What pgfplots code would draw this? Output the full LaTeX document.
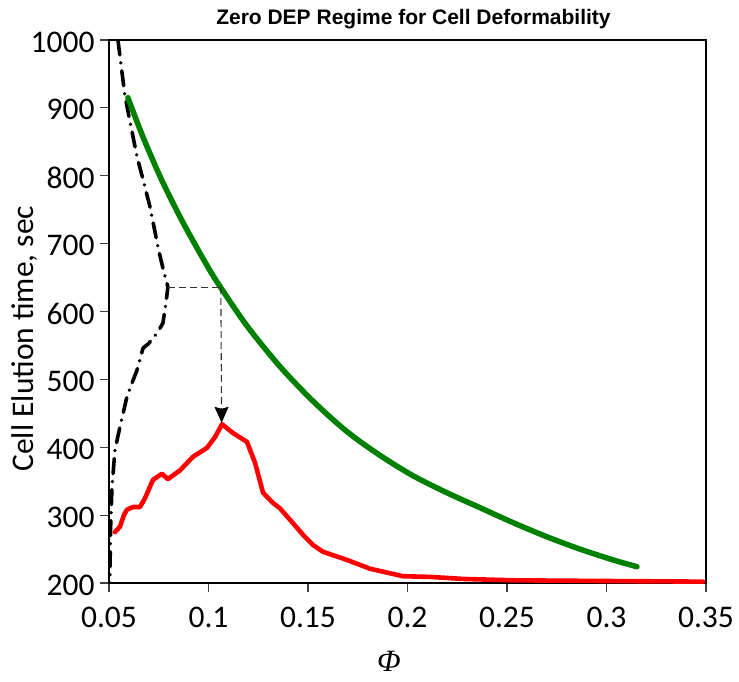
\documentclass[border=0pt]{standalone}
\usepackage{pgfplots}
\pgfplotsset{compat=1.18}
\usepackage{fontspec}
\setmainfont{Carlito}
\newfontfamily\titlefont{Liberation Sans}
\newfontfamily\phifont{Liberation Serif}
\usetikzlibrary{arrows.meta}

\definecolor{curvegreen}{RGB}{0,128,0}
\definecolor{curvered}{RGB}{255,0,0}
\definecolor{tickgray}{RGB}{64,64,64}

\begin{document}
\begin{tikzpicture}
\path[use as bounding box] (-109pt,-98pt) rectangle (630pt,583pt);
\begin{axis}[
  at={(0pt,0pt)}, anchor=south west,
  scale only axis,
  width=597pt, height=543pt,
  xmin=0.05, xmax=0.35, ymin=200, ymax=1000,
  xtick={0.05,0.1,0.15,0.2,0.25,0.3,0.35},
  xticklabels={0.05,0.1,0.15,0.2,0.25,0.3,0.35},
  ytick={200,300,400,500,600,700,800,900,1000},
  yticklabels={200,300,400,500,600,700,800,900,1000},
  tick align=outside,
  xtick pos=left, ytick pos=left,
  major tick length=9pt,
  every tick/.style={tickgray, line width=1.2pt},
  axis line style={black, line width=1.6pt},
  tick label style={font=\fontsize{31.5}{36}\selectfont},
  /pgf/number format/assume math mode=true,
  xticklabel style={yshift=-12pt},
  yticklabel style={xshift=-2pt, yshift=-2pt},
  title={\titlefont\bfseries\fontsize{21}{24}\selectfont Zero DEP Regime for Cell Deformability},
  title style={at={(0.51,1)}, anchor=south, yshift=2pt},
  ylabel={Cell Elution time, sec},
  ylabel style={font=\fontsize{31.5}{36}\selectfont,
    at={(axis description cs:-0.142,0.45)}, anchor=center},
  xlabel={\phifont\itshape Φ},
  xlabel style={font=\fontsize{31}{36}\selectfont, inner sep=0pt,
    at={(axis description cs:0.469,0)}, anchor=center, yshift=-78pt},
  clip=true,
]

% black dash-dot curve
\addplot[black, line width=3.6pt, line cap=round, line join=round,
  dash pattern=on 15pt off 8pt on 0.1pt off 8pt]
coordinates {
  (0.0545,1000) (0.0562,960) (0.0580,918) (0.0610,873) (0.0641,828)
  (0.0675,790) (0.0706,754) (0.0728,722) (0.0746,695) (0.0770,665)
  (0.0796,636) (0.0785,610) (0.0771,583) (0.0746,570) (0.0700,553)
  (0.0671,546) (0.0641,514) (0.0615,494) (0.0590,474) (0.0555,430)
  (0.0530,396) (0.0515,341) (0.0508,280) (0.0505,219) (0.0505,200)
};

% green curve
\addplot[curvegreen, line width=5.5pt, line cap=round, line join=round, smooth]
coordinates {
  (0.0595,915) (0.0671,857) (0.0766,793) (0.0872,731) (0.0992,668)
  (0.1060,636) (0.1193,579) (0.1359,519) (0.1525,468) (0.1696,423)
  (0.1862,388) (0.2028,358) (0.2198,333) (0.2364,311) (0.2530,289)
  (0.2701,268) (0.2866,250) (0.3033,234) (0.3153,224)
};

% red curve
\addplot[curvered, line width=4.6pt, line cap=round, line join=round]
coordinates {
  (0.0530,275) (0.0555,283) (0.0575,300) (0.0590,308) (0.0621,312)
  (0.0656,312) (0.0681,325) (0.0721,352) (0.0766,361) (0.0796,353)
  (0.0857,366) (0.0922,386) (0.0992,399) (0.1033,415) (0.1068,434)
  (0.1123,421) (0.1193,408) (0.1234,377) (0.1274,333) (0.1324,318)
  (0.1359,310) (0.1425,288) (0.1475,271) (0.1525,256) (0.1575,246)
  (0.1696,234) (0.1812,221) (0.1977,210) (0.2113,209) (0.2279,206)
  (0.2530,204) (0.2967,203) (0.3485,202)
};

% dashed guide from the black curve to the green curve
\addplot[black!80, line width=1.1pt, dash pattern=on 7pt off 4pt]
coordinates {(0.0796,636) (0.1062,636)};
% dashed guide down to the red peak
\addplot[black!80, line width=1.1pt, dash pattern=on 7pt off 4pt,
  -{Stealth[length=16pt, width=14pt, inset=2pt, black]}]
coordinates {(0.1062,636) (0.1066,436)};
\end{axis}
\end{tikzpicture}
\end{document}
